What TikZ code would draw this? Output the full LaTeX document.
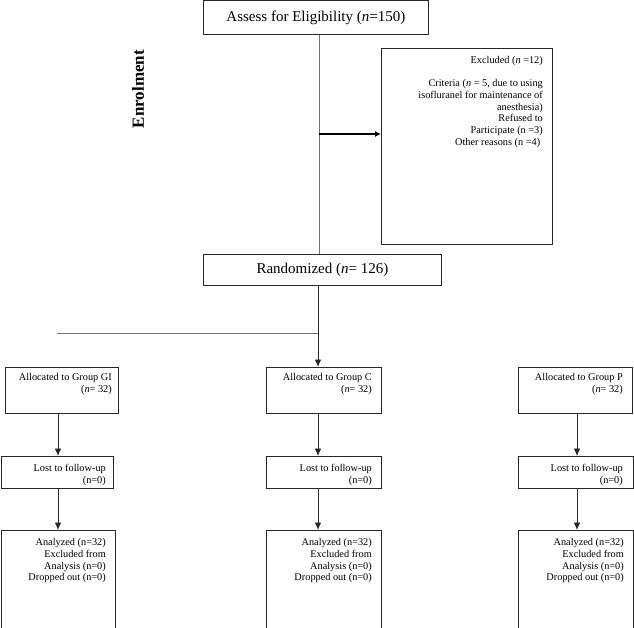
\documentclass[tikz,border=0pt]{standalone}
\usepackage{fontspec}
\setmainfont{Liberation Serif}
\usetikzlibrary{arrows.meta}
\begin{document}
\begin{tikzpicture}[x=1pt,y=-1pt,
  box/.style={draw=black!85,line width=0.8pt,inner sep=0pt,anchor=north west},
  big/.style={font=\fontsize{15}{18}\selectfont},
  small/.style={font=\fontsize{10.3}{11.7}\selectfont,align=right,inner sep=0pt,anchor=north east},
  link/.style={draw=black!85,line width=0.9pt},
  faint/.style={draw=black!55,line width=0.9pt},
  arr/.style={link,-{Latex[length=7.5pt,width=6.5pt]}},
  boldarr/.style={draw=black,line width=1.8pt,-{Latex[length=6pt,width=6pt]}}]
\useasboundingbox (0,0) rectangle (634,628);
% boxes
\node[box,big,minimum width=225pt,minimum height=33.5pt] (assess) at (203,0.5) {Assess for Eligibility (\textit{n}=150)};
\node[box,minimum width=171pt,minimum height=196pt] (excl) at (381,48) {};
\node[box,big,minimum width=238pt,minimum height=31pt] (rand) at (203,254) {Randomized (\textit{n}= 126)};
\node[font=\fontsize{17}{20}\selectfont\bfseries,rotate=90] (enrol) at (138,89) {Enrolment};

\node[box,minimum width=113pt,minimum height=46pt] (allocGI) at (5,367) {};
\node[box,minimum width=115pt,minimum height=46pt] (allocC) at (266,367) {};
\node[box,minimum width=114pt,minimum height=46pt] (allocP) at (518,367) {};
\node[box,minimum width=112.5pt,minimum height=32pt] (lostGI) at (0.5,456) {};
\node[box,minimum width=115pt,minimum height=32pt] (lostC) at (266,456) {};
\node[box,minimum width=115pt,minimum height=32pt] (lostP) at (518,456) {};
\node[box,minimum width=114.5pt,minimum height=97.5pt] (analGI) at (0.5,530) {};
\node[box,minimum width=115pt,minimum height=97.5pt] (analC) at (266,530) {};
\node[box,minimum width=115pt,minimum height=97.5pt] (analP) at (518,530) {};

% texts
\node[small] (exclT) at (543,56) {Excluded (\textit{n} =12)\\[11.7pt]
Criteria (\textit{n} = 5, due to using\\
isofluranel for maintenance of\\
anesthesia)\\
Refused to\ \\
Participate (n =3)\\
Other reasons (n =4)\ \ };
\node[small] (allocGIT) at (112,373.5) {Allocated to Group GI\\(\textit{n}= 32)};
\node[small] (allocCT) at (372,373.5) {Allocated to Group C\\(\textit{n}= 32)};
\node[small] (allocPT) at (623,373.5) {Allocated to Group P\\(\textit{n}= 32)};
\node[small] (lostGIT) at (106,464) {Lost to follow-up\\(n=0)};
\node[small] (lostCT) at (372,464) {Lost to follow-up\\(n=0)};
\node[small] (lostPT) at (623,464) {Lost to follow-up\\(n=0)};
\node[small] (analGIT) at (106,538.5) {Analyzed (n=32)\\Excluded from\\Analysis (n=0)\\Dropped out (n=0)};
\node[small] (analCT) at (372,538.5) {Analyzed (n=32)\\Excluded from\\Analysis (n=0)\\Dropped out (n=0)};
\node[small] (analPT) at (624,538.5) {Analyzed (n=32)\\Excluded from\\Analysis (n=0)\\Dropped out (n=0)};

% connectors
\coordinate (spine) at (319,134);
\coordinate (mid) at (318,333);
\coordinate (left) at (57,333);
\coordinate (xGI) at (58,0);
\coordinate (xP) at (577,0);
\draw[faint] (spine |- assess.south) -- (spine |- rand.north);
\draw[boldarr] (spine) -- (excl.west |- spine);
\draw[arr] (mid |- rand.south) -- (mid |- allocC.north);
\draw[faint] (left) -- (mid);
\draw[arr] (xGI |- allocGI.south) -- (xGI |- lostGI.north);
\draw[arr] (mid |- allocC.south) -- (mid |- lostC.north);
\draw[arr] (xP |- allocP.south) -- (xP |- lostP.north);
\draw[arr] (xGI |- lostGI.south) -- (xGI |- analGI.north);
\draw[arr] (mid |- lostC.south) -- (mid |- analC.north);
\draw[arr] (xP |- lostP.south) -- (xP |- analP.north);
\end{tikzpicture}
\end{document}
